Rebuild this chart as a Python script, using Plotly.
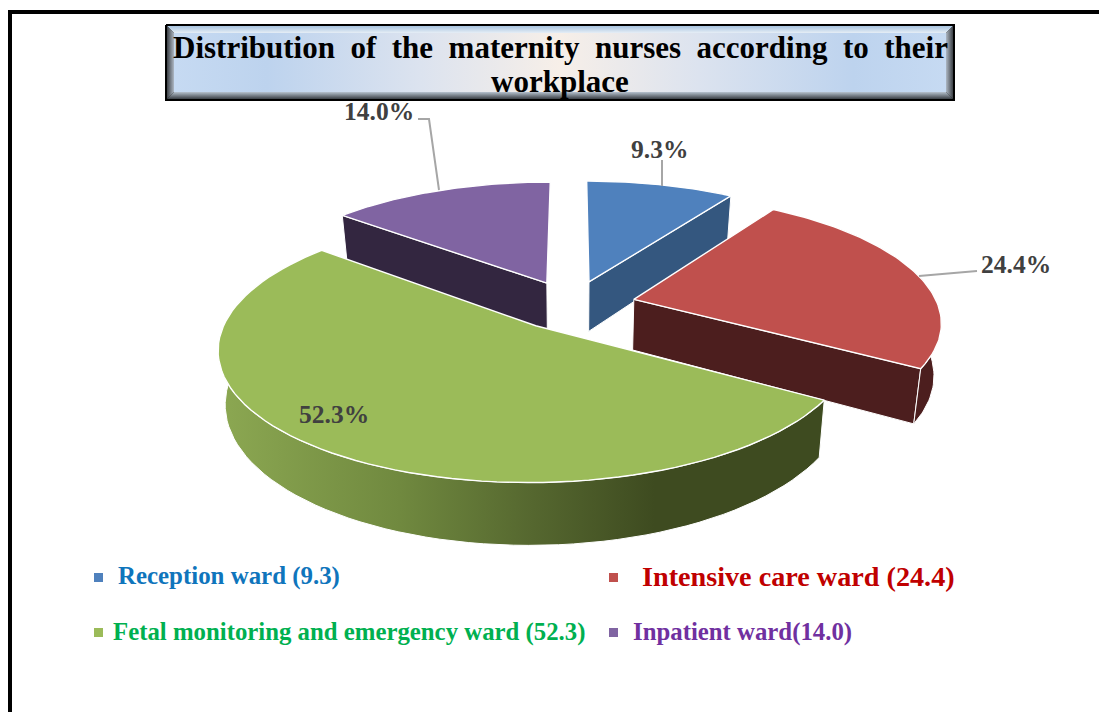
import math
import plotly.graph_objects as go

categories = ["Reception ward", "Intensive care ward", "Fetal monitoring and emergency ward", "Inpatient ward"]
values = [9.3, 24.4, 52.3, 14.0]
explode = [0.2, 0.21, 0.2, 0.2]
percent_labels = ["9.3%", "24.4%", "52.3%", "14.0%"]
legend_labels = ["Reception ward (9.3)", "Intensive care ward (24.4)",
                 "Fetal monitoring and emergency ward (52.3)", "Inpatient ward(14.0)"]

TOP = ["#4F81BD", "#C0504D", "#9BBB59", "#8064A2"]
SIDE = ["#34577F", "#4C1E1E", "#3E4B20", "#332640"]
LEGEND_TEXT = ["#0F75BC", "#C00000", "#00B050", "#7030A0"]
SERIF = "Liberation Serif"

# projection of the exploded disc
CX, CY, A, B, K, H, SHRINK = 572, 305, 304, 124, 0.1616, 51, 0.98


def project(wx, wy, bottom=False):
    d = 1 + K * wy
    f = SHRINK if bottom else 1
    return CX + f * A * wx / d, CY + (-B * wy + (H if bottom else 0)) / d


def point(mid, pull, r, theta, bottom=False):
    wx = pull * math.sin(mid) + r * math.sin(theta)
    wy = pull * math.cos(mid) + r * math.cos(theta)
    return project(wx, wy, bottom)


def poly(pts, color, line="#FFFFFF", width=1.0, gradient=None):
    kw = dict(fillgradient=gradient) if gradient else dict(fillcolor=color)
    return go.Scatter(x=[p[0] for p in pts] + [pts[0][0]], y=[p[1] for p in pts] + [pts[0][1]],
                      mode="lines", fill="toself", line=dict(color=line, width=width),
                      hoverinfo="skip", showlegend=False, **kw)


total = sum(values)
bounds = []
acc = 0.0
for v in values:
    bounds.append((acc / total * 2 * math.pi, (acc + v) / total * 2 * math.pi))
    acc += v


def arc(start, end, n=80):
    return [start + (end - start) * i / n for i in range(n + 1)]


fig = go.Figure()

GREEN_SIDE = dict(type="horizontal", colorscale=[[0, "#8CA852"], [0.3, "#70893F"], [0.52, "#55672F"],
                                                 [0.72, "#3E4B20"], [1, "#3E4B20"]])
# painter's order: back slices first
for i in [0, 3, 1, 2]:
    s, e = bounds[i]
    mid = (s + e) / 2
    pull = explode[i]
    thetas = arc(s, e)
    # cut face that looks at the viewer
    cut = e if i == 1 else s if i == 3 else e if i == 0 else None
    if cut is not None:
        fig.add_trace(poly([point(mid, pull, 0, 0), point(mid, pull, 1, cut), point(mid, pull, 1, cut, True),
                            point(mid, pull, 0, 0, True)], SIDE[i]))
    # rim
    if i in (1, 2):
        rim = [point(mid, pull, 1, t) for t in thetas] + [point(mid, pull, 1, t, True) for t in reversed(thetas)]
        fig.add_trace(poly(rim, SIDE[i], gradient=GREEN_SIDE if i == 2 else None))
    # top
    top = [point(mid, pull, 0, 0)] + [point(mid, pull, 1, t) for t in thetas]
    fig.add_trace(poly(top, TOP[i], width=1.4))

# leader lines
LEADER = "#A6A6A6"
for xs, ys in [([418, 429, 439], [119, 119, 190]), ([662, 662], [160, 186]), ([977, 919], [271, 276])]:
    fig.add_trace(go.Scatter(x=xs, y=ys, mode="lines", line=dict(color=LEADER, width=2),
                             hoverinfo="skip", showlegend=False))

# title box
BX0, BX1, BY0, BY1, BEV = 166, 954, 25, 100, 8
blue_mid = dict(type="horizontal", colorscale=[[0, "#C6DAF2"], [0.12, "#BDD3EE"], [0.32, "#DCE3EF"], [0.5, "#F7EFE8"],
                                                [0.68, "#DCE3EF"], [0.88, "#BDD3EE"], [1, "#C6DAF2"]])
fig.add_trace(poly([(BX0, BY0), (BX1, BY0), (BX1, BY1), (BX0, BY1)], "#000000", line="#000000", width=2))
fig.add_trace(poly([(BX0 + 1, BY0 + 1), (BX1 - 1, BY0 + 1), (BX1 - BEV, BY0 + BEV), (BX0 + BEV, BY0 + BEV)], "#000",
                   line="rgba(0,0,0,0)", width=0,
                   gradient=dict(type="vertical", colorscale=[[0, "#E6EEF6"], [1, "#A8C4E0"]])))
fig.add_trace(poly([(BX0 + 1, BY1 - 1), (BX1 - 1, BY1 - 1), (BX1 - BEV, BY1 - BEV), (BX0 + BEV, BY1 - BEV)], "#000",
                   line="rgba(0,0,0,0)", width=0,
                   gradient=dict(type="vertical", colorscale=[[0, "#3A3F45"], [1, "#B6C2CE"]])))
fig.add_trace(poly([(BX0 + 1, BY0 + 1), (BX0 + BEV, BY0 + BEV), (BX0 + BEV, BY1 - BEV), (BX0 + 1, BY1 - 1)], "#000",
                   line="rgba(0,0,0,0)", width=0,
                   gradient=dict(type="horizontal", colorscale=[[0, "#3C4045"], [1, "#AEB8C4"]])))
fig.add_trace(poly([(BX1 - 1, BY0 + 1), (BX1 - BEV, BY0 + BEV), (BX1 - BEV, BY1 - BEV), (BX1 - 1, BY1 - 1)], "#000",
                   line="rgba(0,0,0,0)", width=0,
                   gradient=dict(type="horizontal", colorscale=[[0, "#AEB8C4"], [1, "#3C4045"]])))
fig.add_trace(poly([(BX0 + BEV, BY0 + BEV), (BX1 - BEV, BY0 + BEV), (BX1 - BEV, BY1 - BEV), (BX0 + BEV, BY1 - BEV)], "#000",
                   line="rgba(0,0,0,0)", width=0, gradient=blue_mid))

ann = []


def text(x, y, s, color, size, anchor="center"):
    ann.append(dict(x=x, y=y, text="<b>" + s + "</b>", showarrow=False, xanchor=anchor, yanchor="middle",
                    font=dict(family=SERIF, size=size, color=color)))


title_line = "Distribution of the maternity nurses according to their".replace(" ", " \u00a0")
text(560, 47, title_line, "#000000", 31)
text(560, 81, "workplace", "#000000", 31)

label_pos = [(659, 149), (1016, 264), (334, 414), (379, 111)]
for s, (x, y) in zip(percent_labels, label_pos):
    text(x, y, s, "#404040", 25.5)

legend_pos = [(116, 576), (640, 576), (111, 632), (631, 632)]
legend_size = [24.9, 28.2, 24.8, 24.8]
for s, c, (x, y), z in zip(legend_labels, LEGEND_TEXT, legend_pos, legend_size):
    text(x, y, s, c, z, "left")

shapes = [
    dict(type="rect", x0=8, x1=12, y0=10, y1=712, fillcolor="#000000", line_width=0),
    dict(type="rect", x0=8, x1=1099, y0=10, y1=14, fillcolor="#000000", line_width=0),
]
for c, (x, y) in zip(TOP, [(94, 573), (609, 573), (94, 628), (609, 628)]):
    shapes.append(dict(type="rect", x0=x, x1=x + 9, y0=y, y1=y + 9, fillcolor=c, line_width=0))

fig.update_layout(
    width=1099, height=712, margin=dict(l=0, r=0, t=0, b=0), paper_bgcolor="#FFFFFF", plot_bgcolor="#FFFFFF",
    xaxis=dict(range=[0, 1099], visible=False, fixedrange=True),
    yaxis=dict(range=[712, 0], visible=False, fixedrange=True),
    showlegend=False, annotations=ann, shapes=shapes,
)
fig.write_html("out.html", config=dict(displayModeBar=False),
               post_script="document.body.style.margin='0';document.body.style.background='#fff';")
